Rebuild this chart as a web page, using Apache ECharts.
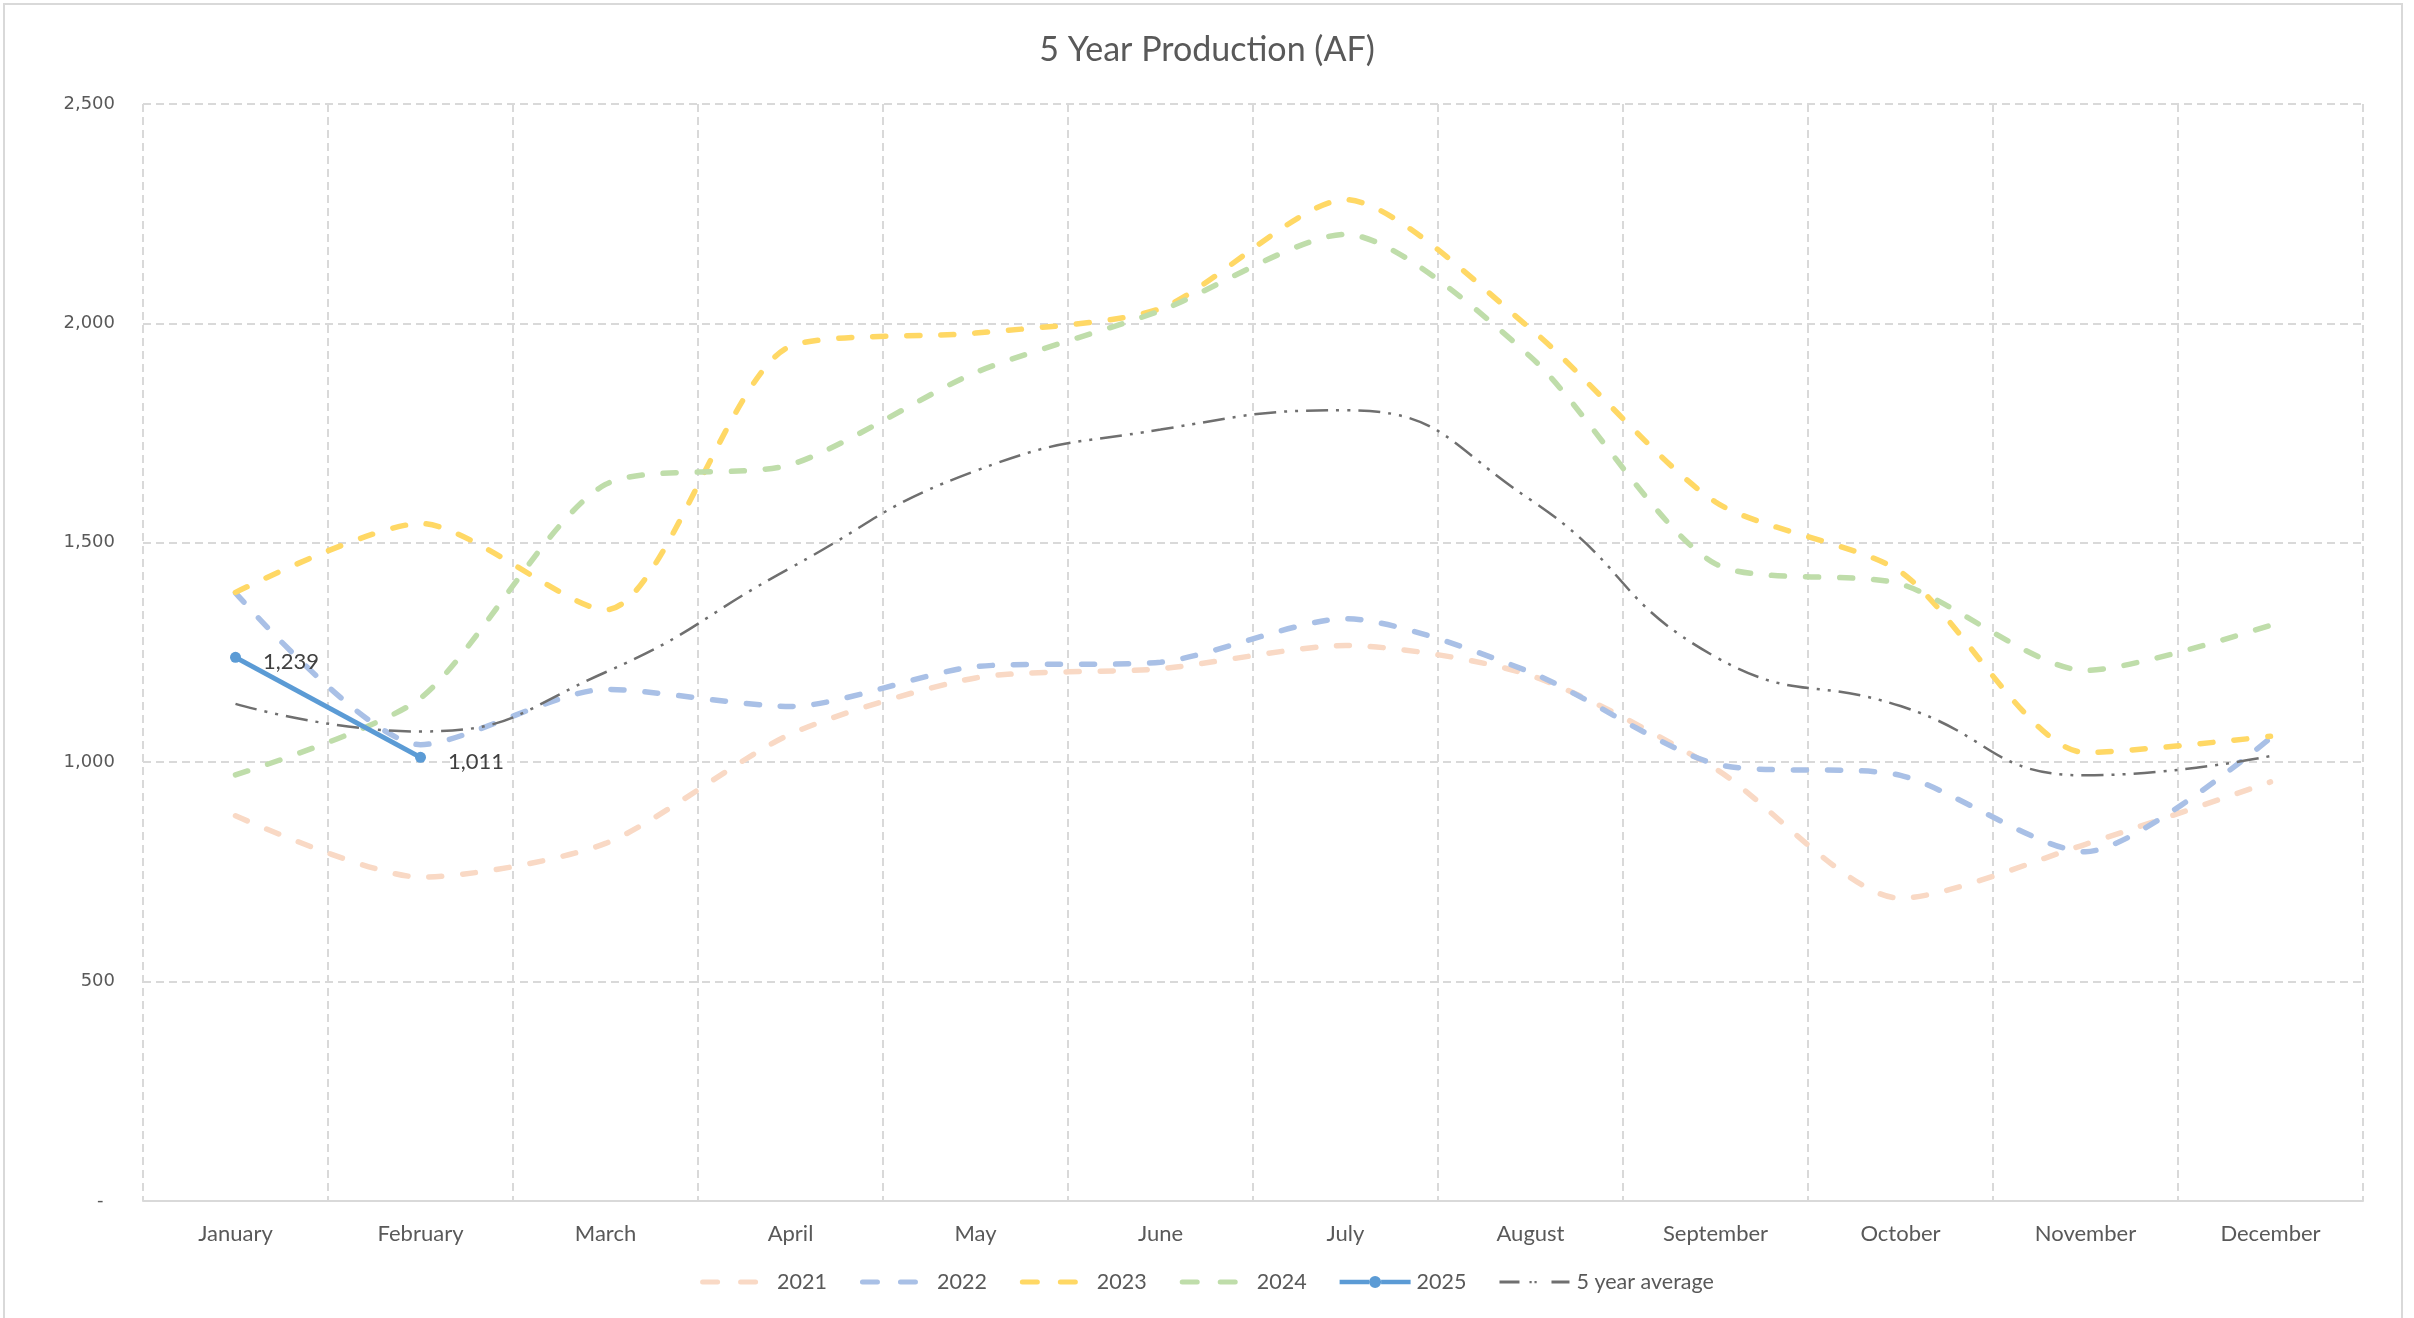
<!DOCTYPE html>
<html>
<head>
<meta charset="utf-8">
<script src="https://cdn.jsdelivr.net/npm/echarts@6/dist/echarts.min.js"></script>
<style>
html,body{margin:0;padding:0;background:#fff;}
#chart{width:2414px;height:1318px;}
</style>
</head>
<body>
<div id="chart"></div>
<script>
const months = ['January','February','March','April','May','June','July','August','September','October','November','December'];
const y2021 = [878, 738, 815, 1064, 1192, 1213, 1266, 1198, 985, 690, 813, 955];
const y2022 = [1386, 1040, 1166, 1127, 1218, 1228, 1327, 1205, 996, 970, 796, 1055];
const y2023 = [1387, 1544, 1347, 1948, 1978, 2034, 2282, 1988, 1593, 1434, 1022, 1059];
const y2024 = [971, 1146, 1633, 1678, 1888, 2029, 2203, 1924, 1452, 1406, 1209, 1312];
const y2025 = [1239, 1011];
const avg5 = [1133, 1070, 1205, 1443, 1664, 1758, 1802, 1598, 1240, 1128, 970, 1014];
const yTicks = [0, 500, 1000, 1500, 2000, 2500];

const fontMain = 'Lato, "Open Sans", sans-serif';

// legend icon shapes (72 x 12 box, corner specks fix the bounding box)
const BOX = 'M0,0h0.05v0.05h-0.05z M71.95,11.95h0.05v0.05h-0.05z ';
const ICON_DASH = 'path://' + BOX +
  'M2.5,3.5h15a2.5,2.5 0 0 1 0,5h-15a2.5,2.5 0 0 1 0,-5z ' +
  'M40.5,3.5h15a2.5,2.5 0 0 1 0,5h-15a2.5,2.5 0 0 1 0,-5z';
const ICON_2025 = 'path://' + BOX +
  'M0,3.75h29.5v4.5h-29.5z M41.5,3.75h29.5v4.5h-29.5z ' +
  'M29.5,6a6,6 0 1 1 12,0a6,6 0 1 1 -12,0z';
const ICON_AVG = 'path://' + BOX +
  'M0,4.5h20v3h-20z M30,5h2.2v2.2h-2.2z M35,5h2.2v2.2h-2.2z M52,4.5h18v3h-18z';

function yearSeries(name, data, color) {
  return {
    name: name, type: 'line', data: data, smooth: 0.25,
    symbol: 'none', showSymbol: false,
    lineStyle: { color: color, width: 5.5, type: [13, 21], cap: 'round' },
    itemStyle: { color: color },
    emphasis: { disabled: true }
  };
}

const chart = echarts.init(document.getElementById('chart'));
chart.setOption({
  animation: false,
  backgroundColor: '#ffffff',
  graphic: [{
    type: 'rect', shape: { x: 4, y: 4, width: 2398, height: 1330 },
    style: { fill: null, stroke: '#d9d9d9', lineWidth: 2 }, silent: true
  }],
  title: {
    text: '5 Year Production (AF)', left: 'center', top: 28,
    textStyle: { fontFamily: fontMain, fontSize: 34, fontWeight: 'normal', color: '#595959' }
  },
  grid: { left: 143, right: 51, top: 104, bottom: 117 },
  legend: {
    top: 1266, left: 'center',
    itemWidth: 72, itemHeight: 12, itemGap: 33,
    itemStyle: { borderWidth: 0 },
    textStyle: { fontFamily: fontMain, fontSize: 21.5, color: '#595959' },
    data: [
      { name: '2021', icon: ICON_DASH },
      { name: '2022', icon: ICON_DASH },
      { name: '2023', icon: ICON_DASH },
      { name: '2024', icon: ICON_DASH },
      { name: '2025', icon: ICON_2025 },
      { name: '5 year average', icon: ICON_AVG }
    ]
  },
  xAxis: {
    type: 'category', data: months, boundaryGap: true,
    axisLine: { lineStyle: { color: '#d9d9d9', width: 2 } },
    axisTick: { show: false },
    axisLabel: { fontFamily: fontMain, fontSize: 22, color: '#595959', margin: 22, interval: 0 },
    splitLine: { show: true, lineStyle: { color: '#d9d9d9', width: 2, type: [8, 5] } }
  },
  yAxis: {
    type: 'value', min: yTicks[0], max: yTicks[yTicks.length - 1], interval: 500,
    axisLine: { show: false }, axisTick: { show: false },
    axisLabel: {
      fontFamily: '"DejaVu Sans", sans-serif', fontSize: 18, color: '#595959', margin: 28,
      formatter: v => v === 0 ? '-  ' : v.toLocaleString('en-US')
    },
    splitLine: { show: true, lineStyle: { color: '#d9d9d9', width: 2, type: [8, 5] } }
  },
  series: [
    yearSeries('2021', y2021, '#F9D9C5'),
    yearSeries('2022', y2022, '#A9C0E6'),
    yearSeries('2023', y2023, '#FFD865'),
    yearSeries('2024', y2024, '#BFDDAA'),
    {
      name: '5 year average', type: 'line', data: avg5, smooth: 0.5,
      symbol: 'none', showSymbol: false,
      lineStyle: { color: '#6f6f6f', width: 2.5, type: [22, 8, 3, 8, 3, 8] },
      itemStyle: { color: '#6f6f6f' },
      emphasis: { disabled: true }, z: 3
    },
    {
      name: '2025', type: 'line', data: y2025, smooth: false,
      symbol: 'circle', symbolSize: 11, showSymbol: true,
      lineStyle: { color: '#5B9BD5', width: 5 },
      itemStyle: { color: '#5B9BD5' },
      label: {
        show: true, position: 'right', distance: 22, offset: [0, 5],
        fontFamily: fontMain, fontSize: 22, color: '#404040',
        formatter: p => Number(p.value).toLocaleString('en-US')
      },
      emphasis: { disabled: true }, z: 5
    }
  ]
});
</script>
</body>
</html>
